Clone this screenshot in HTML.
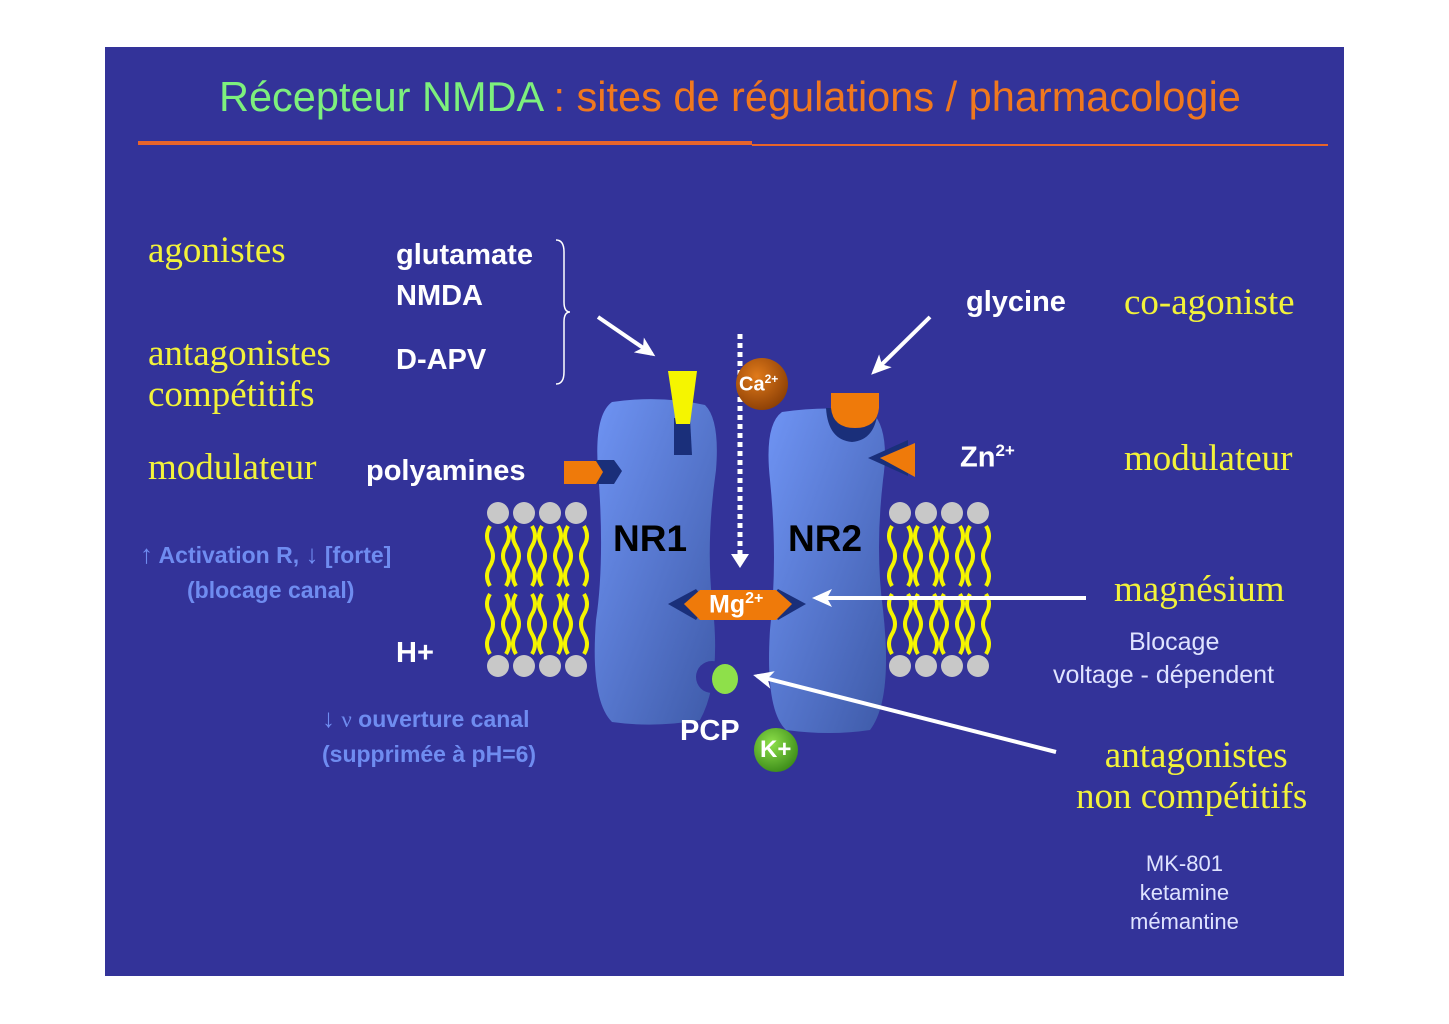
<!DOCTYPE html>
<html><head><meta charset="utf-8"><style>
body{margin:0;background:#fff;width:1449px;height:1024px;position:relative;overflow:hidden;font-family:"Liberation Sans",sans-serif}
.t{position:absolute;white-space:nowrap}
.s{font-family:"Liberation Serif",serif;color:#f2f23a;font-size:37px}
.b{font-weight:bold;color:#fff;font-size:29px}
.l{font-weight:bold;color:#6f8cf0;font-size:23px}
.w{color:#dfe3ff;font-size:25px}
</style></head><body>
<div style="position:absolute;left:105px;top:47px;width:1239px;height:929px;background:#333399"></div>
<svg style="position:absolute;left:0;top:0" width="1449" height="1024">
<defs>
<linearGradient id="g" x1="0" y1="0" x2="1" y2="1"><stop offset="0" stop-color="#6f94f4"/><stop offset="1" stop-color="#3e5aa8"/></linearGradient>
<radialGradient id="ca" cx=".4" cy=".35" r=".7"><stop offset="0" stop-color="#e07a1a"/><stop offset="1" stop-color="#8a3e05"/></radialGradient>
<radialGradient id="k" cx=".4" cy=".35" r=".7"><stop offset="0" stop-color="#8ee04a"/><stop offset="1" stop-color="#3a8a18"/></radialGradient>
<marker id="a" markerWidth="20" markerHeight="18" refX="16" refY="9" orient="auto" markerUnits="userSpaceOnUse"><path d="M0,0 L20,9 L0,18 L5,9 Z" fill="#fff"/></marker>
</defs>
<line x1="138" y1="143" x2="752" y2="143" stroke="#e8642a" stroke-width="4"/>
<line x1="752" y1="145" x2="1328" y2="145" stroke="#e8642a" stroke-width="2"/>
<path d="M556,240 q8,0 8,12 v50 q0,10 6,10 q-6,0 -6,10 v50 q0,12 -8,12" fill="none" stroke="#fff" stroke-width="1.5"/>
<path d="M612,402 Q660,395 705,405 Q720,420 716,470 Q706,540 712,600 Q722,680 700,720 Q655,728 612,722 Q590,700 596,620 Q605,560 598,470 Q594,415 612,402Z" fill="url(#g)"/>
<path d="M782,412 Q830,405 872,412 Q890,430 883,480 Q875,550 883,610 Q893,700 870,730 Q830,736 786,730 Q765,710 770,630 Q778,560 770,480 Q764,425 782,412Z" fill="url(#g)"/>
<g fill="#c8c8c8">
<circle cx="498" cy="513" r="11"/><circle cx="524" cy="513" r="11"/><circle cx="550" cy="513" r="11"/><circle cx="576" cy="513" r="11"/>
<circle cx="498" cy="666" r="11"/><circle cx="524" cy="666" r="11"/><circle cx="550" cy="666" r="11"/><circle cx="576" cy="666" r="11"/>
<circle cx="900" cy="513" r="11"/><circle cx="926" cy="513" r="11"/><circle cx="952" cy="513" r="11"/><circle cx="978" cy="513" r="11"/>
<circle cx="900" cy="666" r="11"/><circle cx="926" cy="666" r="11"/><circle cx="952" cy="666" r="11"/><circle cx="978" cy="666" r="11"/>
</g>
<g fill="none" stroke="#f5f500" stroke-width="4">
<path d="M490,526 q-6,10 0,20 q6,10 0,20 q-6,10 0,20 M506,526 q6,10 0,20 q-6,10 0,20 q6,10 0,20 M516,526 q-6,10 0,20 q6,10 0,20 q-6,10 0,20 M532,526 q6,10 0,20 q-6,10 0,20 q6,10 0,20 M542,526 q-6,10 0,20 q6,10 0,20 q-6,10 0,20 M558,526 q6,10 0,20 q-6,10 0,20 q6,10 0,20 M568,526 q-6,10 0,20 q6,10 0,20 q-6,10 0,20 M584,526 q6,10 0,20 q-6,10 0,20 q6,10 0,20"/>
<path d="M490,594 q-6,10 0,20 q6,10 0,20 q-6,10 0,20 M506,594 q6,10 0,20 q-6,10 0,20 q6,10 0,20 M516,594 q-6,10 0,20 q6,10 0,20 q-6,10 0,20 M532,594 q6,10 0,20 q-6,10 0,20 q6,10 0,20 M542,594 q-6,10 0,20 q6,10 0,20 q-6,10 0,20 M558,594 q6,10 0,20 q-6,10 0,20 q6,10 0,20 M568,594 q-6,10 0,20 q6,10 0,20 q-6,10 0,20 M584,594 q6,10 0,20 q-6,10 0,20 q6,10 0,20"/>
<path transform="translate(402,0)" d="M490,526 q-6,10 0,20 q6,10 0,20 q-6,10 0,20 M506,526 q6,10 0,20 q-6,10 0,20 q6,10 0,20 M516,526 q-6,10 0,20 q6,10 0,20 q-6,10 0,20 M532,526 q6,10 0,20 q-6,10 0,20 q6,10 0,20 M542,526 q-6,10 0,20 q6,10 0,20 q-6,10 0,20 M558,526 q6,10 0,20 q-6,10 0,20 q6,10 0,20 M568,526 q-6,10 0,20 q6,10 0,20 q-6,10 0,20 M584,526 q6,10 0,20 q-6,10 0,20 q6,10 0,20"/>
<path transform="translate(402,0)" d="M490,594 q-6,10 0,20 q6,10 0,20 q-6,10 0,20 M506,594 q6,10 0,20 q-6,10 0,20 q6,10 0,20 M516,594 q-6,10 0,20 q6,10 0,20 q-6,10 0,20 M532,594 q6,10 0,20 q-6,10 0,20 q6,10 0,20 M542,594 q-6,10 0,20 q6,10 0,20 q-6,10 0,20 M558,594 q6,10 0,20 q-6,10 0,20 q6,10 0,20 M568,594 q-6,10 0,20 q6,10 0,20 q-6,10 0,20 M584,594 q6,10 0,20 q-6,10 0,20 q6,10 0,20"/>
</g>
<path d="M674,418 L690,418 L692,455 L674,455Z" fill="#1a2f7a"/>
<path d="M668,371 L697,371 L690,424 L676,424Z" fill="#f5f500"/>
<path d="M826,408 Q828,440 852,442 Q876,440 878,408Z" fill="#1a2f7a"/>
<path d="M831,393 L879,393 L879,408 Q877,428 855,428 Q833,428 831,408Z" fill="#ef7a0a"/>
<path d="M868,458 L908,440 L908,446 L880,458 L908,470 L908,476Z" fill="#1a2f7a"/>
<path d="M880,458 L915,443 L915,477Z" fill="#ef7a0a"/>
<path d="M594,460 L614,460 L622,471 L614,484 L594,484 L602,471Z" fill="#1a2f7a"/>
<path d="M564,461 L596,461 L603,472 L596,484 L564,484Z" fill="#ef7a0a"/>
<path d="M668,604 L696,589 L700,594 L684,604 L700,614 L696,620Z M806,604 L778,589 L774,594 L790,604 L774,614 L778,620Z" fill="#1a2f7a"/>
<path d="M684,604 L700,590 L776,590 L792,604 L776,620 L700,620Z" fill="#ef7a0a"/>
<circle cx="712" cy="677" r="16" fill="#333399"/>
<ellipse cx="725" cy="679" rx="13" ry="15" fill="#8ee04a"/>
<line x1="740" y1="334" x2="740" y2="556" stroke="#fff" stroke-width="5" stroke-dasharray="5,4"/>
<path d="M731,554 L749,554 L740,568Z" fill="#fff"/>
<circle cx="762" cy="384" r="26" fill="url(#ca)"/>
<circle cx="776" cy="750" r="22" fill="url(#k)"/>
<g stroke="#fff" stroke-width="4" marker-end="url(#a)">
<line x1="598" y1="317" x2="652" y2="354"/>
<line x1="930" y1="317" x2="874" y2="372"/>
<line x1="1086" y1="598" x2="816" y2="598"/>
<line x1="1056" y1="752" x2="757" y2="676"/>
</g>
</svg>
<div class="t" style="left:219px;top:73px;font-size:41.5px;color:#7df07d">Récepteur NMDA <span style="color:#f0781e">: sites de régulations / pharmacologie</span></div>
<div class="t s" style="left:148px;top:229px">agonistes</div>
<div class="t s" style="left:148px;top:333px;line-height:41px">antagonistes<br>compétitifs</div>
<div class="t s" style="left:148px;top:446px">modulateur</div>
<div class="t s" style="left:1124px;top:281px">co-agoniste</div>
<div class="t s" style="left:1124px;top:437px">modulateur</div>
<div class="t s" style="left:1114px;top:568px">magnésium</div>
<div class="t s" style="left:1076px;top:735px;text-align:center;line-height:41px">&nbsp;antagonistes<br>non compétitifs</div>
<div class="t b" style="left:396px;top:239px">glutamate</div>
<div class="t b" style="left:396px;top:280px">NMDA</div>
<div class="t b" style="left:396px;top:344px">D-APV</div>
<div class="t b" style="left:366px;top:455px">polyamines</div>
<div class="t b" style="left:966px;top:286px">glycine</div>
<div class="t b" style="left:960px;top:441px">Zn<sup style="font-size:17px">2+</sup></div>
<div class="t b" style="left:396px;top:637px">H+</div>
<div class="t b" style="left:680px;top:715px">PCP</div>
<div class="t" style="left:613px;top:518px;font-weight:bold;font-size:37px;color:#000">NR1</div>
<div class="t" style="left:788px;top:518px;font-weight:bold;font-size:37px;color:#000">NR2</div>
<div class="t" style="left:709px;top:590px;font-weight:bold;font-size:25px;color:#fff">Mg<sup style="font-size:16px">2+</sup></div>
<div class="t" style="left:739px;top:372px;font-weight:bold;font-size:20px;color:#fff">Ca<sup style="font-size:12px">2+</sup></div>
<div class="t" style="left:760px;top:736px;font-weight:bold;font-size:24px;color:#fff">K+</div>
<div class="t l" style="left:140px;top:539px"><span style="font-size:26px">↑</span> Activation R, <span style="font-size:26px">↓</span> [forte]</div>
<div class="t l" style="left:187px;top:577px">(blocage canal)</div>
<div class="t l" style="left:322px;top:703px"><span style="font-size:26px">↓</span> <span style="font-family:'Liberation Serif',serif;font-weight:normal">ν</span> ouverture canal</div>
<div class="t l" style="left:322px;top:741px">(supprimée à pH=6)</div>
<div class="t w" style="left:1129px;top:628px">Blocage</div>
<div class="t w" style="left:1053px;top:661px">voltage - dépendent</div>
<div class="t w" style="left:1130px;top:849px;text-align:center;font-size:22px;line-height:29px">MK-801<br>ketamine<br>mémantine</div>
</body></html>
